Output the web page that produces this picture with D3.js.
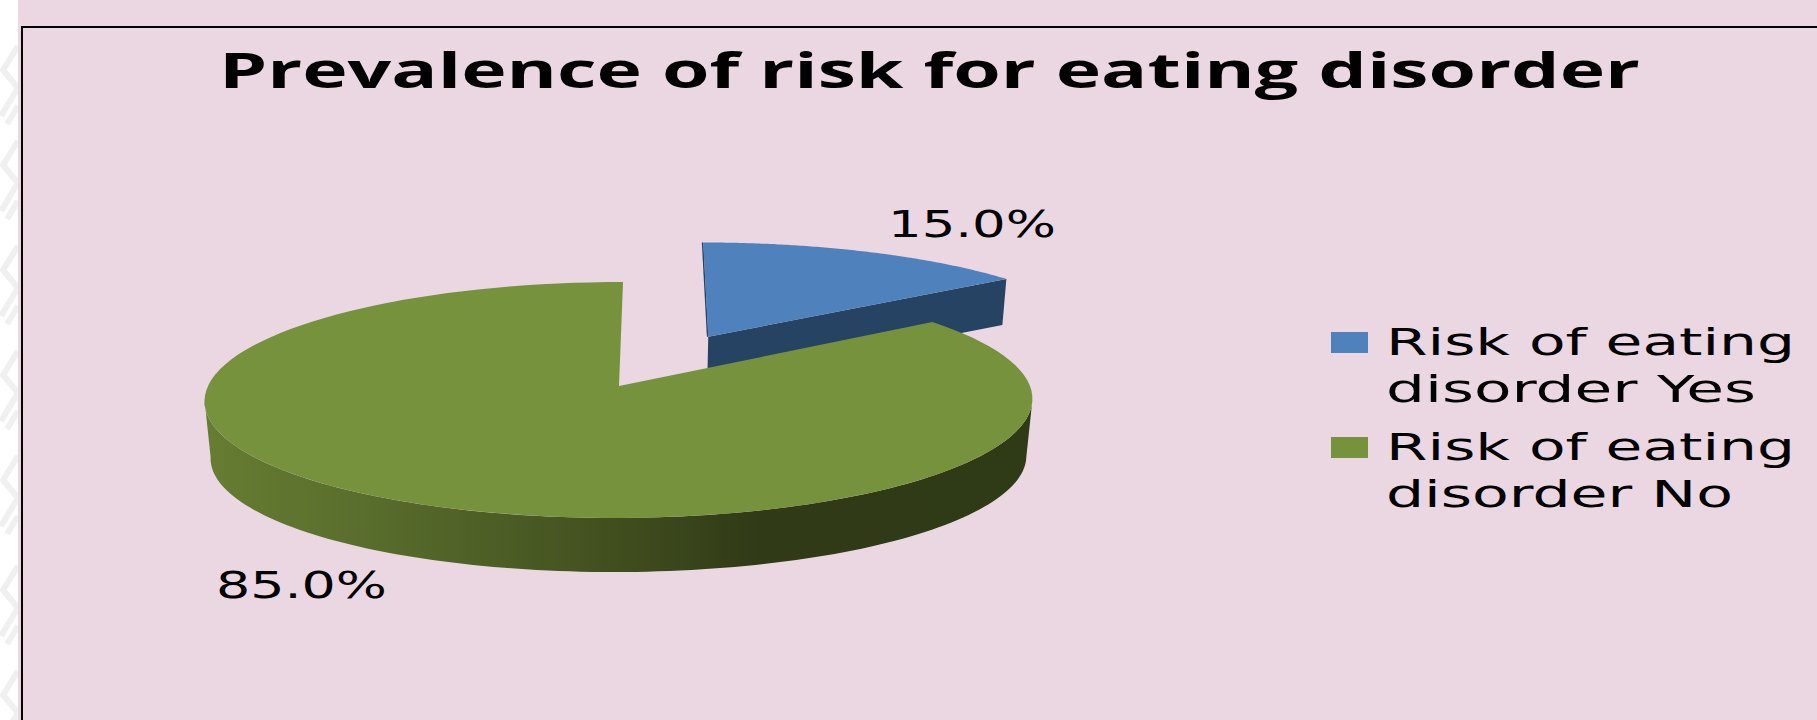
<!DOCTYPE html>
<html>
<head>
<meta charset="utf-8">
<script src="https://cdn.jsdelivr.net/npm/d3@7/dist/d3.min.js"></script>
<style>
  html, body { margin: 0; padding: 0; background: #fff; }
  svg { display: block; }
  text { fill: #000; }
</style>
</head>
<body>
<svg id="chart" width="1817" height="720"></svg>
<script>
// Chart content
const chartTitle = "Prevalence of risk for eating disorder";
const categories = ["Risk of eating disorder Yes", "Risk of eating disorder No"];
const legendLines = [["Risk of eating", "disorder Yes"], ["Risk of eating", "disorder No"]];
const seriesValues = [15.0, 85.0];
const explodeAmounts = [0.5, 0];
const topColors = ["#4f81bd", "#76923c"];
const wallColors = ["#274363", "#2f3a16"];

const width = 1817, height = 720;
const svg = d3.select("#chart");
const defs = svg.append("defs");

// Page and framed panel
svg.append("rect").attr("width", width).attr("height", height).attr("fill", "#ffffff");

// Faint ornament along the left margin
const ornament = svg.append("g").attr("fill", "none").attr("stroke", "#f0f0f0")
  .attr("stroke-width", 6).attr("stroke-linejoin", "round");
[40, 135, 240, 345, 450, 560, 665].forEach(y => {
  ornament.append("path").attr("d", d3.line()([[18, y + 6], [3, y + 30], [18, y + 48], [1, y + 76]]));
  ornament.append("path").attr("d", d3.line()([[18, y + 66], [7, y + 84]]));
});

svg.append("rect").attr("x", 18).attr("width", width - 18).attr("height", height).attr("fill", "#ebd7e2");
svg.append("path").attr("d", `M${width + 5},27H22V${height + 5}`)
  .attr("fill", "none").attr("stroke", "#000").attr("stroke-width", 2);

// Perspective projection of the pie plane onto the screen.
// Plane units: radius 1, u to the right, v towards the viewer.
const persp = 0.1186;
const planes = {
  top:     { x0: 619, y0: 386,   ax: 411, ay: 116.3, shear: -4.5 },
  bottom:  { x0: 619, y0: 443.5, ax: 405, ay: 113.3, shear: -4.5 },
  exploded:{ x0: 616, y0: 386,   ax: 418, ay: 116.3, shear: -5 }
};
function project(u, v, plane) {
  const p = planes[plane], w = 1 - persp * v;
  return [p.x0 + (p.ax * u + p.shear * v) / w, p.y0 + (p.ay * v) / w];
}
const onRim = (angle, offset, plane) =>
  project(offset[0] + Math.sin(angle), offset[1] - Math.cos(angle), plane);

const slices = d3.pie().sort(null).startAngle(0).endAngle(2 * Math.PI)(seriesValues);
const line = d3.line();
const arcAngles = (a0, a1) => d3.range(0, 121).map(i => a0 + (a1 - a0) * i / 120);

slices.forEach((s, i) => {
  const mid = (s.startAngle + s.endAngle) / 2;
  const plane = explodeAmounts[i] > 0 ? "exploded" : "top";
  s.offset = [explodeAmounts[i] * Math.sin(mid), -explodeAmounts[i] * Math.cos(mid)];
  s.apex = project(s.offset[0], s.offset[1], plane);
  s.rim = arcAngles(s.startAngle, s.endAngle).map(a => onRim(a, s.offset, plane));
  s.face = line([s.apex, ...s.rim]) + "Z";
});

const [yes, no] = slices;

// Blue slice: cut wall facing the viewer, then the top face
const tip = yes.rim[yes.rim.length - 1];
const dropped = (pt, inset) => [pt[0] - inset, pt[1] + 46];
svg.append("path")
  .attr("d", line([yes.apex, tip, dropped(tip, 4), dropped(yes.apex, 1)]) + "Z")
  .attr("fill", wallColors[0]);
svg.append("path").attr("d", line([yes.rim[0], yes.apex]))
  .attr("fill", "none").attr("stroke", wallColors[0]).attr("stroke-width", 1.5)
  .attr("transform", "translate(-0.6,0)");
svg.append("path").attr("d", yes.face).attr("fill", topColors[0]);

// Green slice: shaded outer wall across the front half, then the top face
const shade = defs.append("linearGradient").attr("id", "rimShade")
  .attr("gradientUnits", "userSpaceOnUse")
  .attr("x1", 203).attr("x2", 1031).attr("y1", 0).attr("y2", 0);
[[0, "#667d32"], [0.18, "#5a6f2d"], [0.39, "#4a5a24"], [0.53, "#3e4b1d"], [0.67, "#303a17"], [1, wallColors[1]]]
  .forEach(([o, c]) => shade.append("stop").attr("offset", o).attr("stop-color", c));

const frontAngles = arcAngles(96.8 * Math.PI / 180, 263.2 * Math.PI / 180);
const wallOutline = [
  ...frontAngles.map(a => onRim(a, no.offset, "top")),
  ...frontAngles.slice().reverse().map(a => onRim(a, no.offset, "bottom"))
];
svg.append("path").attr("d", line(wallOutline) + "Z").attr("fill", "url(#rimShade)");
svg.append("path").attr("d", no.face).attr("fill", topColors[1]);

// Stretched text helper
function label(str, x, y, size, length, family, weight) {
  return svg.append("text")
    .attr("x", x).attr("y", y)
    .attr("font-family", family)
    .attr("font-size", size)
    .attr("font-weight", weight || 400)
    .attr("textLength", length)
    .attr("lengthAdjust", "spacingAndGlyphs")
    .text(str);
}

const titleFont = '"Open Sans", sans-serif';
const bodyFont = '"DejaVu Sans", sans-serif';

label(chartTitle, 219, 88, 49, 1421, titleFont, 700);

// Value labels
const formatPct = v => d3.format(".1f")(v) + "%";
const valueLabelSpots = [[888, 237, 168], [216, 598, 171]];
seriesValues.forEach((v, i) => {
  const [x, y, len] = valueLabelSpots[i];
  label(formatPct(v), x, y, 37, len, bodyFont);
});

// Legend
const legendY = d3.scalePoint().domain(categories).range([332, 437]);
const lineWidths = [[409, 370], [409, 347]];
categories.forEach((c, i) => {
  const y = legendY(c);
  svg.append("rect").attr("x", 1331).attr("y", y).attr("width", 37).attr("height", 21).attr("fill", topColors[i]);
  legendLines[i].forEach((t, j) => {
    label(t, 1386, y + 23 + j * 47, 38, lineWidths[i][j], bodyFont);
  });
});
</script>
</body>
</html>
